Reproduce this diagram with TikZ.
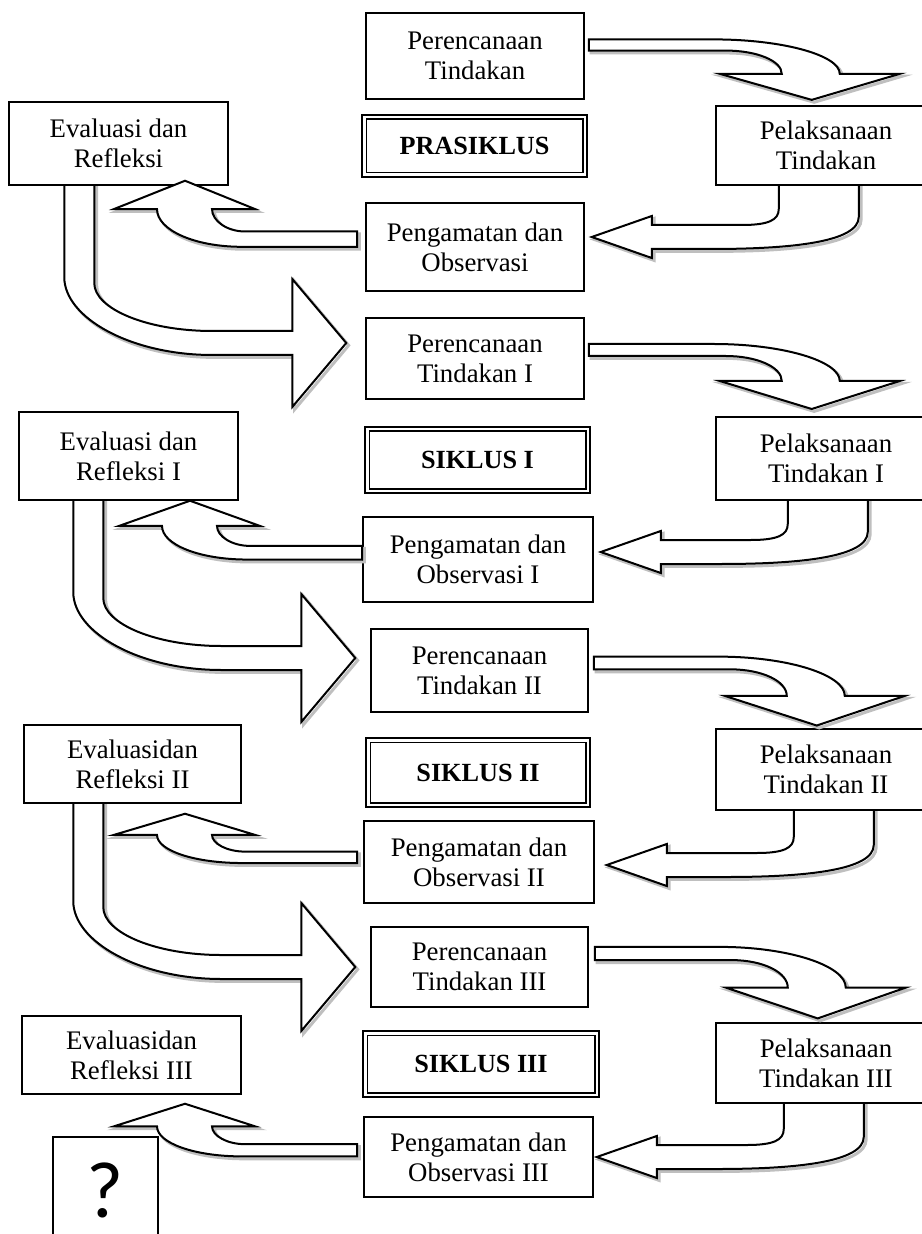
\documentclass[tikz,border=0pt]{standalone}
\usepackage{fontspec}
\setmainfont{Liberation Serif}
\newfontfamily\qmarkfont{Carlito}
\usetikzlibrary{backgrounds}

\newcommand{\boxfont}{\fontsize{13.4}{15}\selectfont}
\newcommand{\cyclefont}{\fontsize{13.1}{15}\selectfont\bfseries}

\tikzset{
  box/.style={draw, line width=0.75pt, fill=white, align=center, inner sep=0pt, font=\boxfont},
  cyclebox/.style={draw, line width=1.35pt, fill=white, inner sep=0pt, font=\cyclefont},
  blockarrow/.style={draw, line width=1pt, fill=white,
    preaction={draw=black!25, line width=1.5pt, transform canvas={xshift=1.2pt, yshift=-1.2pt}}},
  % Perencanaan -> Pelaksanaan
  pics/turndown/.style={code={
    \draw[blockarrow] (0,-6) -- (125,-6) .. controls (194,-6) and (251,11) .. (251,31)
      -- (311,31) -- (223,59) -- (131,31) -- (193,31)
      .. controls (193,17) and (168,6) .. (137,6) -- (0,6) -- cycle;}},
  % Pelaksanaan -> Pengamatan
  pics/backdown/.style={code={
    \draw[blockarrow] (0,0) -- (60,-21) -- (60,-12) -- (150,-12)
      .. controls (177,-12) and (187,-17) .. (187,-28) -- (187,-62) -- (267,-62) -- (267,-20)
      .. controls (267,5) and (200,12) .. (120,12) -- (60,12) -- (60,21) -- cycle;}},
  % Pengamatan -> Evaluasi
  pics/backup/.style={code={
    \draw[blockarrow] (0,0) -- (70,24) -- (27,24) .. controls (27,34) and (42,43) .. (60,43)
      -- (172,43) -- (172,56) -- (57,56) .. controls (10,56) and (-28,42) .. (-28,24)
      -- (-71,24) -- cycle;}},
  % Evaluasi -> Perencanaan (siklus berikutnya)
  pics/bigturn/.style={code={
    \draw[blockarrow] (0,0) -- (-54,-64) -- (-54,-12) -- (-134,-12)
      .. controls (-199,-12) and (-252,-34) .. (-252,-60) -- (-252,-175) -- (-282,-175) -- (-282,-66)
      .. controls (-282,-25) and (-215,12) .. (-134,12) -- (-54,12) -- (-54,64) -- cycle;}},
}

\begin{document}
\begin{tikzpicture}[x=0.5pt, y=-0.5pt]
  \useasboundingbox (0,0) rectangle (921,1234);

  % Prasiklus
  \node[box, minimum width=109pt, minimum height=43pt] (plan0) at (475,56) {Perencanaan\\Tindakan};
  \node[box, minimum width=109.5pt, minimum height=41.5pt] (eval0) at (118.5,143.5) {Evaluasi dan\\Refleksi};
  \node[cyclebox, minimum width=112.5pt, minimum height=31pt] (cyc0) at (474.5,146) {PRASIKLUS};
  \node[box, minimum width=110pt, minimum height=39.5pt] (exec0) at (826,145.5) {Pelaksanaan\\Tindakan};
  \node[box, minimum width=109pt, minimum height=44pt] (obs0) at (475,247) {Pengamatan dan\\Observasi};

  % Siklus I
  \node[box, minimum width=109pt, minimum height=40.5pt] (plan1) at (475,358.5) {Perencanaan\\Tindakan I};
  \node[box, minimum width=109.5pt, minimum height=44pt] (eval1) at (128.5,456) {Evaluasi dan\\Refleksi I};
  \node[cyclebox, minimum width=112.5pt, minimum height=33pt] (cyc1) at (477.5,460) {SIKLUS I};
  \node[box, minimum width=110pt, minimum height=41.5pt] (exec1) at (826,458.5) {Pelaksanaan\\Tindakan I};
  \node[box, minimum width=115pt, minimum height=42.5pt] (obs1) at (478,559.5) {Pengamatan dan\\Observasi I};

  % Siklus II
  \node[box, minimum width=108.5pt, minimum height=41.5pt] (plan2) at (479.5,670.5) {Perencanaan\\Tindakan II};
  \node[box, minimum width=108.5pt, minimum height=39pt] (eval2) at (132.5,764) {Evaluasidan\\Refleksi II};
  \node[cyclebox, minimum width=112pt, minimum height=34.5pt] (cyc2) at (478,772.5) {SIKLUS II};
  \node[box, minimum width=110pt, minimum height=40.5pt] (exec2) at (826,769.5) {Pelaksanaan\\Tindakan II};
  \node[box, minimum width=115pt, minimum height=41pt] (obs2) at (479,862) {Pengamatan dan\\Observasi II};

  % Siklus III
  \node[box, minimum width=108.5pt, minimum height=40pt] (plan3) at (479.5,967) {Perencanaan\\Tindakan III};
  \node[box, minimum width=109.5pt, minimum height=39pt] (eval3) at (131.5,1055) {Evaluasidan\\Refleksi III};
  \node[cyclebox, minimum width=118pt, minimum height=33pt] (cyc3) at (481,1064) {SIKLUS III};
  \node[box, minimum width=110pt, minimum height=40pt] (exec3) at (826,1063) {Pelaksanaan\\Tindakan III};
  \node[box, minimum width=114.5pt, minimum height=40pt] (obs3) at (478.5,1157) {Pengamatan dan\\Observasi III};

  % kotak tanda tanya (terbuka di bawah)
  \node[font=\qmarkfont\fontsize{40}{42}\selectfont, inner sep=0pt] (qmark) at (105.5,1190) {?};
  \draw[line width=0.75pt] (53,1240) |- (158,1137) -- (158,1240);

  % garis dalam kotak siklus
  \foreach \c in {cyc0,cyc1,cyc2,cyc3}
    \draw[line width=0.65pt] ([shift={(5.5,5.5)}]\c.north west) rectangle ([shift={(-5.5,-5.5)}]\c.south east);

  % panah di belakang kotak
  \begin{scope}[on background layer]
    \pic at ([shift={(-19,-15.5)}]plan1.west) {bigturn};
    \pic at ([shift={(-15,-12.5)}]plan2.west) {bigturn};
    \pic at ([shift={(-15,0)}]plan3.west) {bigturn};
    \pic at ([shift={(7,-10)}]obs0.east) {backdown};
    \pic at ([shift={(7,-7.5)}]obs1.east) {backdown};
    \pic at ([shift={(12,3)}]obs2.east) {backdown};
    \pic at ([shift={(3,0)}]obs3.east) {backdown};
  \end{scope}

  % panah di depan kotak
  \pic[yscale=0.93] at ([shift={(4,-11)}]plan0.east) {turndown};
  \pic at ([shift={(4,-8.5)}]plan1.east) {turndown};
  \pic[yscale=1.06] at ([shift={(5,-7.5)}]plan2.east) {turndown};
  \pic[yscale=1.1] at ([shift={(6,-13.5)}]plan3.east) {turndown};
  \pic[yscale=1.18] at ([shift={(66.5,-5)}]eval0.south) {backup};
  \pic[yscale=1.05] at ([shift={(61.5,0)}]eval1.south) {backup};
  \pic[yscale=0.88] at ([shift={(52.5,10)}]eval2.south) {backup};
  \pic[yscale=0.94] at ([shift={(53.5,9)}]eval3.south) {backup};
\end{tikzpicture}
\end{document}
